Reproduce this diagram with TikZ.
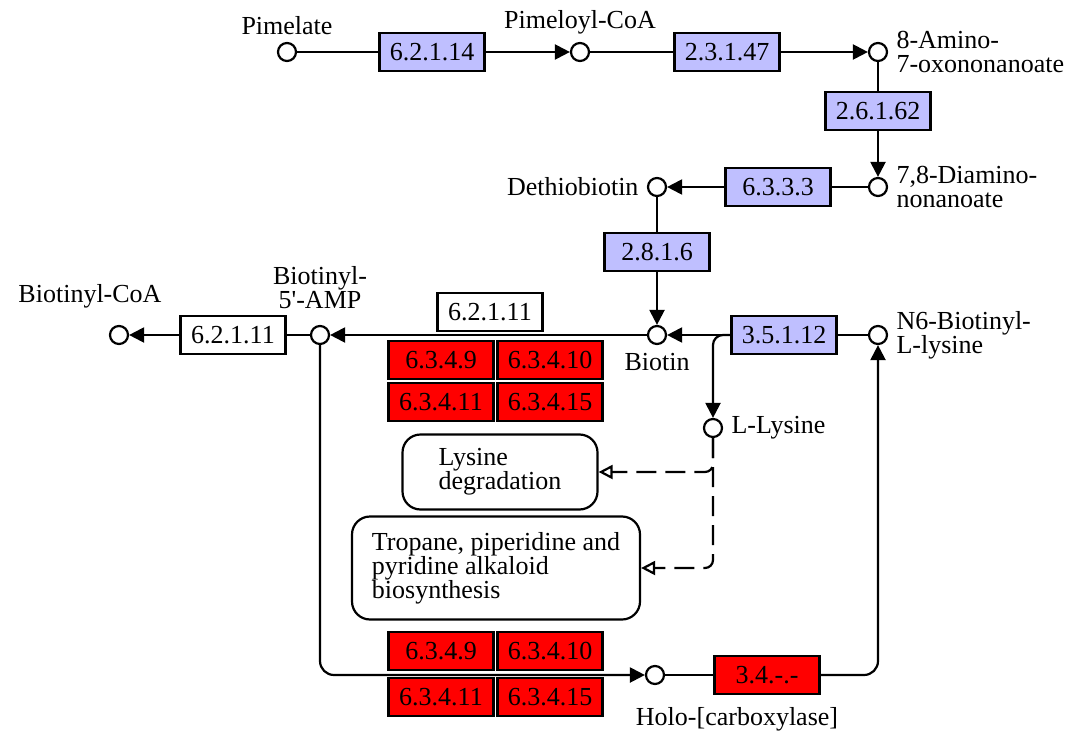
\documentclass[tikz,border=0pt]{standalone}
\usepackage{fontspec}
\setmainfont{Liberation Serif}
\usetikzlibrary{arrows.meta,positioning}

\begin{document}
\begin{tikzpicture}[x=1pt, y=-1pt, line width=2.2pt, every node/.style={font=\fontsize{26}{24}\selectfont},
  cpd/.style={circle,draw,fill=white,minimum size=18pt,inner sep=0pt},
  enz/.style={draw,fill=blue!25,minimum width=105pt,minimum height=38pt,inner sep=0pt},
  ortho/.style={draw,fill=white,minimum width=105pt,minimum height=38pt,inner sep=0pt},
  hit/.style={draw,fill=red,minimum width=105pt,minimum height=38pt,inner sep=0pt},
  mapbox/.style={draw,fill=white,rounded corners=18pt,align=left,inner sep=0pt},
  arr/.style={-{Triangle[length=15pt,width=15pt]}},
  oarr/.style={dash pattern=on 20pt off 9pt,rounded corners=8pt,-{Triangle[open,length=14pt,width=14pt,fill=white]}}]
\useasboundingbox (0,0) rectangle (1075,738);
% compounds
\node[cpd] (pim) at (287,52) {};
\node[cpd] (pimcoa) at (580,52) {};
\node[cpd] (kapa) at (878,52) {};
\node[cpd] (dapa) at (878,187) {};
\node[cpd] (dtb) at (657,187) {};
\node[cpd] (btn) at (657,335) {};
\node[cpd] (n6) at (878,335) {};
\node[cpd] (lys) at (713,428) {};
\node[cpd] (amp) at (320,335) {};
\node[cpd] (bcoa) at (119,335) {};
\node[cpd] (holo) at (655,675) {};
% enzymes
\node[enz] (e62114) at (432,52) {6.2.1.14};
\node[enz] (e23147) at (727,52) {2.3.1.47};
\node[enz] (e26162) at (878,111) {2.6.1.62};
\node[enz] (e6333) at (778,187) {6.3.3.3};
\node[enz] (e2816) at (657,252) {2.8.1.6};
\node[enz] (e35112) at (784,335) {3.5.1.12};
\node[ortho] (e62111a) at (490,312) {6.2.1.11};
\node[ortho] (e62111b) at (233,335) {6.2.1.11};
\node[hit] (ha1) at (441,360) {6.3.4.9};
\node[hit] (ha2) at (550,360) {6.3.4.10};
\node[hit] (ha3) at (441,402) {6.3.4.11};
\node[hit] (ha4) at (550,402) {6.3.4.15};
\node[hit] (hb1) at (441,651) {6.3.4.9};
\node[hit] (hb2) at (550,651) {6.3.4.10};
\node[hit] (hb3) at (441,697) {6.3.4.11};
\node[hit] (hb4) at (550,697) {6.3.4.15};
\node[hit] (e34) at (767,675) {3.4.-.-};
% maps
\node[mapbox,minimum width=195pt,minimum height=75pt] (lysdeg) at (500,472) {Lysine\\degradation};
\node[mapbox,minimum width=288pt,minimum height=103pt] (tpa) at (496,568) {Tropane, piperidine and\\pyridine alkaloid\\biosynthesis};
% labels
\node[above=3pt of pim] (lpim) {Pimelate};
\node[above=3pt of pimcoa] (lpimcoa) {Pimeloyl-CoA};
\node[right=4pt of kapa,align=left] (lkapa) {8-Amino-\\7-oxononanoate};
\node[right=4pt of dapa,align=left] (ldapa) {7,8-Diamino-\\nonanoate};
\node[left=4pt of dtb] (ldtb) {Dethiobiotin};
\node[below=4pt of btn] (lbtn) {Biotin};
\node[right=4pt of n6,align=left] (ln6) {N6-Biotinyl-\\L-lysine};
\node[right=4pt of lys] (llys) {L-Lysine};
\node[above=12pt of amp,align=center] (lamp) {Biotinyl-\\5\textquotesingle-AMP};
\node[above=12pt of bcoa,xshift=-29pt] (lbcoa) {Biotinyl-CoA};
\node[below=18pt of holo,xshift=82pt] (lholo) {Holo-[carboxylase]};
% reactions
\draw (pim) -- (e62114); \draw[arr] (e62114) -- (pimcoa);
\draw (pimcoa) -- (e23147); \draw[arr] (e23147) -- (kapa);
\draw (kapa) -- (e26162); \draw[arr] (e26162) -- (dapa);
\draw (dapa) -- (e6333); \draw[arr] (e6333) -- (dtb);
\draw (dtb) -- (e2816); \draw[arr] (e2816) -- (btn);
\draw (n6) -- (e35112); \draw[arr] (e35112) -- (btn);
\draw[arr,rounded corners=10pt] (e35112.west) -| (lys);
\draw[arr] (btn) -- (amp);
\draw (amp) -- (e62111b); \draw[arr] (e62111b) -- (bcoa);
\draw[arr,rounded corners=14pt] (amp) |- (holo);
\draw (holo) -- (e34); \draw[arr,rounded corners=14pt] (e34) -| (n6);
\draw[oarr] (lys) |- (lysdeg);
\draw[oarr] (lys) |- (tpa);
\end{tikzpicture}
\end{document}
